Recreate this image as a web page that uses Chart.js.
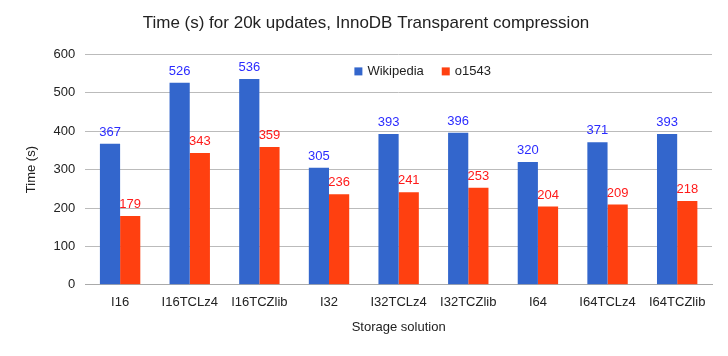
<!DOCTYPE html>
<html><head><meta charset="utf-8">
<script src="https://cdn.jsdelivr.net/npm/chart.js@4"></script>
<style>html,body{margin:0;padding:0;background:#fff}#w{width:728px;height:356px}</style>
</head><body><div id="w"><canvas id="c"></canvas></div>
<script>
const categories = ["I16","I16TCLz4","I16TCZlib","I32","I32TCLz4","I32TCZlib","I64","I64TCLz4","I64TCZlib"];
const wikipedia = [367,526,536,305,393,396,320,371,393];
const o1543 = [179,343,359,236,241,253,204,209,218];
const yTicks = [0,100,200,300,400,500,600];
const FONT = '"Liberation Sans", Arial, sans-serif';

const labelPlugin = {
  id:'vlabels',
  afterDatasetsDraw(chart){
    const ctx = chart.ctx;
    chart.data.datasets.forEach((ds,i)=>{
      const meta = chart.getDatasetMeta(i);
      meta.data.forEach((bar,j)=>{
        ctx.save();
        ctx.font = '13px ' + FONT;
        ctx.fillStyle = ds.labelColor;
        ctx.textAlign = 'center';
        ctx.textBaseline = 'bottom';
        ctx.fillText(String(ds.data[j]), bar.x, bar.y - 5);
        ctx.restore();
      });
    });
  }
};

const legendPlugin = {
  id:'inlegend',
  afterDraw(chart){
    const ctx = chart.ctx;
    ctx.save();
    ctx.font = '13px ' + FONT;
    ctx.textBaseline = 'middle';
    const items = chart.data.datasets.map(d=>({t:d.label,c:d.backgroundColor}));
    const box = 8, gap = 5, sep = 18;
    let total = 0;
    items.forEach((it,i)=>{ total += box + gap + ctx.measureText(it.t).width + (i<items.length-1?sep:0); });
    const ca = chart.chartArea;
    let x = (ca.left + ca.right)/2 - total/2 + 24;
    const y = ca.top + 17;
    items.forEach(it=>{
      ctx.fillStyle = it.c;
      ctx.fillRect(x, y - box/2, box, box);
      x += box + gap;
      ctx.fillStyle = '#222';
      ctx.fillText(it.t, x, y);
      x += ctx.measureText(it.t).width + sep;
    });
    ctx.restore();
  }
};

new Chart(document.getElementById('c'), {
  type:'bar',
  data:{labels:categories,datasets:[
    {label:'Wikipedia',data:wikipedia,backgroundColor:'#3366cc',labelColor:'#2b2bff',categoryPercentage:0.58,barPercentage:1},
    {label:'o1543',data:o1543,backgroundColor:'#ff4010',labelColor:'#ff1a1a',categoryPercentage:0.58,barPercentage:1}
  ]},
  options:{
    responsive:true,maintainAspectRatio:false,animation:false,
    layout:{padding:{left:20,right:16,top:0,bottom:17}},
    plugins:{
      title:{display:true,text:'Time (s) for 20k updates, InnoDB Transparent compression',color:'#222',
        font:{family:FONT,size:17,weight:'normal'},padding:{top:13,bottom:21}},
      legend:{display:false},
      tooltip:{enabled:false}
    },
    scales:{
      x:{grid:{display:false},border:{color:'#aaa'},
        ticks:{color:'#222',font:{family:FONT,size:13},maxRotation:0,autoSkip:false,padding:2},
        title:{display:true,text:'Storage solution',color:'#222',font:{family:FONT,size:13},padding:{top:7}}},
      y:{min:0,max:600,
        afterBuildTicks(s){s.ticks=yTicks.map(v=>({value:v}));},
        grid:{color:'#bbb',drawTicks:false},border:{display:false},
        ticks:{color:'#222',font:{family:FONT,size:13},padding:10},
        title:{display:true,text:'Time (s)',color:'#222',font:{family:FONT,size:13},padding:{bottom:4}}}
    }
  },
  plugins:[labelPlugin,legendPlugin]
});
</script></body></html>
